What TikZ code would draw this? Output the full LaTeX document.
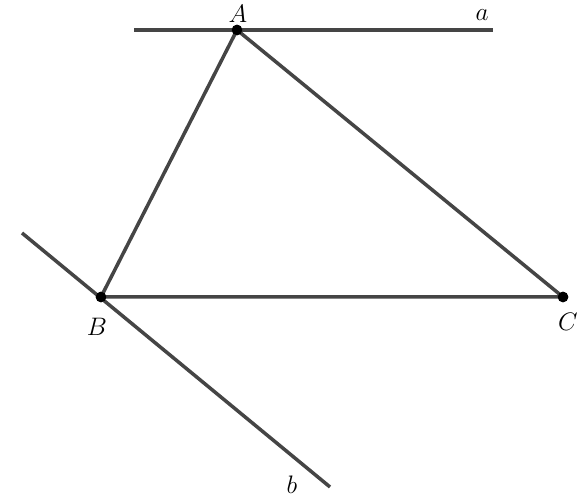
\documentclass[tikz,border=0pt]{standalone}
\usepackage{xcolor}
\usepackage{tikz}
\definecolor{linegray}{HTML}{454545}
\tikzset{seg/.style={line width=2pt, linegray}, pt/.style={circle, fill=black, inner sep=0pt, minimum size=6pt}}

\begin{document}
\begin{tikzpicture}
    \useasboundingbox (0,0) rectangle (11.72,10);
    \coordinate (a1) at (2.68, 9.40);
    \coordinate (a2) at (9.86, 9.40);
    \coordinate (b1) at (0.44, 5.34);
    \coordinate (b2) at (6.60, 0.26);
    \node[pt] at (4.74, 9.40)   (A) {};
    \node[pt] at (2.02, 4.06)   (B) {};
    \node[pt] at (11.26, 4.06)  (C) {};

    \draw[seg](a1)--(a2);
    \draw[seg](b1)--(b2);
    \draw[seg](A.center)--(B.center)--(C.center)--cycle;
    \node[pt] at (A) {};
    \node[pt] at (B) {};
    \node[pt] at (C) {};

    \node[] at (4.76, 9.72)   (lA) {\Large $A$};
    \node[] at (9.64, 9.70)   (la) {\Large $a$};
    \node[] at (1.94, 3.46)   (lB) {\Large $B$};
    \node[] at (11.36, 3.57)  (lC) {\Large $C$};
    \node[] at (5.84, 0.30)   (lb) {\Large $b$};
\end{tikzpicture}
\end{document}
